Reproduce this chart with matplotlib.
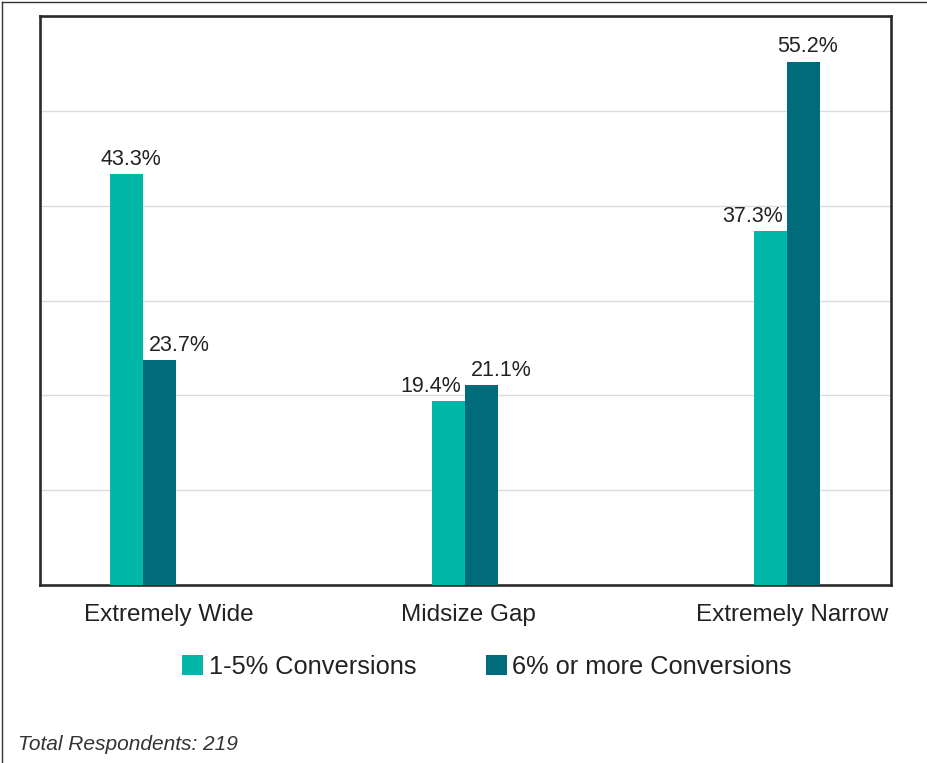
import matplotlib
matplotlib.use("Agg")
import matplotlib.pyplot as plt
import matplotlib.transforms as mtransforms
from matplotlib.lines import Line2D
import numpy as np

plt.rcParams['font.family'] = ['Liberation Sans', 'DejaVu Sans']

categories = ["Extremely Wide", "Midsize Gap", "Extremely Narrow"]
series_names = ["1-5% Conversions", "6% or more Conversions"]
low_conv = [43.3, 19.4, 37.3]
high_conv = [23.7, 21.1, 55.2]
footer = "Total Respondents: 219"

teal = "#00B7A8"
dark = "#006B7B"
txt = "#222222"

fig = plt.figure(figsize=(9.27, 7.63), dpi=100)
ax = fig.add_axes([40 / 927, 1 - 585 / 763, 851 / 927, 569 / 763])

x = np.arange(len(categories))
w = 0.1025
b1 = ax.bar(x - w / 2, low_conv, w, color=teal, label=series_names[0], zorder=3)
b2 = ax.bar(x + w / 2, high_conv, w, color=dark, label=series_names[1], zorder=3)

ax.set_xlim(-0.32, 2.323)
ax.set_ylim(0, 60)
ax.set_yticks([10, 20, 30, 40, 50])
ax.yaxis.grid(True, color="#dcdcdc", linewidth=1.0, zorder=0)
ax.tick_params(axis='y', length=0, labelleft=False)
ax.tick_params(axis='x', length=0, pad=13.5, labelsize=17.5, labelcolor=txt)
ax.set_xticks(x)
ax.set_xticklabels(categories)
for s in ax.spines.values():
    s.set_color("#2b2b2b")
    s.set_linewidth(1.9)

# nudge category labels like the original
for lab, dx in zip(ax.get_xticklabels(), [26, 3, 5]):
    lab.set_transform(lab.get_transform() + mtransforms.ScaledTranslation(dx / 100, 0, fig.dpi_scale_trans))

# value labels
fs = 15.5
for i in range(len(categories)):
    a, b = low_conv[i], high_conv[i]
    big = abs(a - b) > 5
    # teal label
    if big and a > b:
        ax.annotate(f"{a}%", (x[i] - w / 2, a), xytext=(3, 3), textcoords="offset points",
                    ha="center", va="bottom", fontsize=fs, color=txt)
    else:
        ax.annotate(f"{a}%", (x[i], a), xytext=(-3, 3), textcoords="offset points",
                    ha="right", va="bottom", fontsize=fs, color=txt)
    # dark label
    if big and b > a:
        ax.annotate(f"{b}%", (x[i] + w / 2, b), xytext=(3, 3), textcoords="offset points",
                    ha="center", va="bottom", fontsize=fs, color=txt)
    else:
        ax.annotate(f"{b}%", (x[i], b), xytext=(4, 3), textcoords="offset points",
                    ha="left", va="bottom", fontsize=fs, color=txt)

fig.legend(handles=[b1, b2], loc="center", bbox_to_anchor=(487 / 927, 1 - 667 / 763),
           ncol=2, frameon=False, fontsize=18.3, handlelength=0.82, handleheight=0.82,
           handletextpad=0.22, columnspacing=2.75, labelcolor=txt)

fig.text(18 / 927, 1 - 745 / 763, footer, fontsize=15, style="italic", color="#333333",
         ha="left", va="center")

# outer frame (left and top edges)
fig.add_artist(Line2D([1.5 / 927, 1.5 / 927], [0, 1 - 1.5 / 763], color="#333333", lw=1.0))
fig.add_artist(Line2D([1.5 / 927, 1], [1 - 1.5 / 763, 1 - 1.5 / 763], color="#333333", lw=1.0))

fig.savefig("out.png", dpi=100)
